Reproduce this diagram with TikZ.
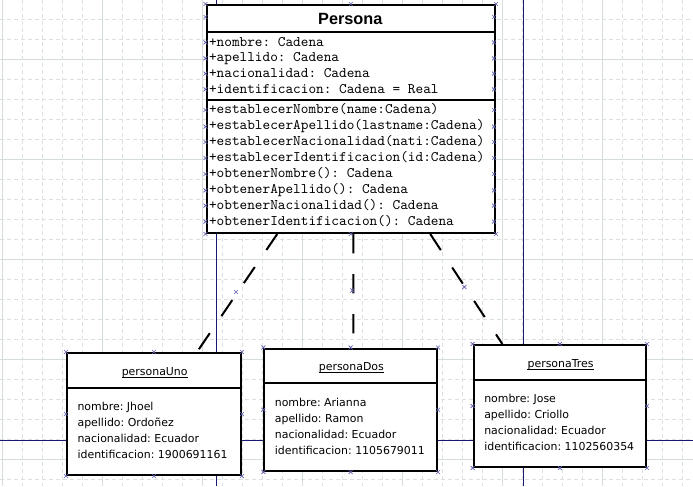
\documentclass[tikz,border=0pt]{standalone}
\usepackage{fontspec}
\newfontfamily\umlmono{Latin Modern Mono}
\newfontfamily\umlsans{DejaVu Sans}
\newfontfamily\umltitle{Liberation Sans}
\usetikzlibrary{calc}
\frenchspacing

\definecolor{gridminor}{RGB}{220,224,224}
\definecolor{gridmajor}{RGB}{212,220,220}
\definecolor{wire}{RGB}{24,24,112}
\definecolor{handle}{RGB}{96,96,176}

\tikzset{
  box/.style={draw=black, line width=1.5pt, fill=white, inner sep=0pt, anchor=north west},
  rule/.style={line width=1.5pt},
  assoc/.style={line width=1.5pt, dash pattern=on 14.5pt off 15.5pt},
  wireline/.style={wire, line width=0.75pt},
  gridmin/.style={gridminor, line width=0.75pt, dash pattern=on 3pt off 2.25pt},
  gridmaj/.style={gridmajor, line width=0.75pt},
  member/.style={anchor=base west, inner sep=0pt, font=\umlmono\fontsize{10.93}{12}\selectfont},
  slot/.style={anchor=base west, inner sep=0pt, font=\umlsans\fontsize{8.2}{10}\selectfont},
  objname/.style={anchor=base, inner sep=0pt, font=\umlsans\fontsize{8.2}{10}\selectfont},
  classname/.style={anchor=base, inner sep=0pt, font=\umltitle\bfseries\fontsize{12.2}{14}\selectfont},
  handlemark/.style={handle, line width=0.5pt},
}
% small selection handle (a cross)
\newcommand\umlhandle[1]{\draw[handlemark] #1 +(-2,-2) -- +(2,2) +(-2,2) -- +(2,-2);}

\begin{document}
\begin{tikzpicture}[x=0.75pt, y=-0.75pt]
  \useasboundingbox (0,0) rectangle (693,486);
  \fill[white] (0,0) rectangle (693,486);

  % canvas grid
  \foreach \x in {2.7,22.7,...,692.7} {\draw[gridmin] (\x,0) -- (\x,486);}
  \foreach \y in {19.3,39.3,...,479.3} {\draw[gridmin] (0,\y) -- (693,\y);}
  \foreach \x in {2.7,102.7,...,602.7} {\draw[gridmaj] (\x,0) -- (\x,486);}
  \foreach \y in {59.3,159.3,...,459.3} {\draw[gridmaj] (0,\y) -- (693,\y);}

  % class and objects
  \node[box, minimum width=288.5*0.75pt, minimum height=228*0.75pt] (persona) at (205.5,4) {};
  \node[box, minimum width=174*0.75pt, minimum height=122*0.75pt] (uno) at (66,352) {};
  \node[box, minimum width=172.7*0.75pt, minimum height=122.5*0.75pt] (dos) at (263.3,347.5) {};
  \node[box, minimum width=172.3*0.75pt, minimum height=122*0.75pt] (tres) at (472.7,344) {};

  % blue wires
  \coordinate (wA) at (216.3,0);
  \coordinate (wC) at (216.5,486);
  \coordinate (wT) at (523.3,0);
  \coordinate (wB) at (523.3,486);
  \coordinate (wL) at (0,440.5);
  \coordinate (wR) at (693,440.5);
  \draw[wireline] (wA) -- (wA |- persona.north);
  \draw[wireline] (wA |- persona.south) -- (wA |- uno.north);
  \draw[wireline] (wC) -- (wC |- uno.south);
  \draw[wireline] (wT) -- (wT |- tres.north);
  \draw[wireline] (wB) -- (wB |- tres.south);
  \draw[wireline] (wL) -- (wL -| uno.west);
  \draw[wireline] (uno.east |- wL) -- (dos.west |- wL);
  \draw[wireline] (dos.east |- wL) -- (tres.west |- wL);
  \draw[wireline] (tres.east |- wL) -- (wR);

  % class Persona
  \node[classname] (personaT) at (350.3,24) {Persona};
  \draw[rule] (205.5,32.3) -- (494,32.3);
  \draw[rule] (205.5,100) -- (494,100);
  \foreach \t [count=\i] in {
    +nombre: Cadena,
    +apellido: Cadena,
    +nacionalidad: Cadena,
    +identificacion: Cadena = Real}
    {\node[member] (attr\i) at (208.8,{46+15.67*(\i-1)}) {\t};}
  \foreach \t [count=\i] in {
    +establecerNombre(name:Cadena),
    +establecerApellido(lastname:Cadena),
    +establecerNacionalidad(nati:Cadena),
    +establecerIdentificacion(id:Cadena),
    +obtenerNombre(): Cadena,
    +obtenerApellido(): Cadena,
    +obtenerNacionalidad(): Cadena,
    +obtenerIdentificacion(): Cadena}
    {\node[member] (op\i) at (208.8,{113.7+15.95*(\i-1)}) {\t};}

  % objects
  \foreach \n/\title/\a/\b/\c/\d in {
    uno/personaUno/Jhoel/Ordoñez/Ecuador/1900691161,
    dos/personaDos/Arianna/Ramon/Ecuador/1105679011,
    tres/personaTres/Jose/Criollo/Ecuador/1102560354} {
    \node[objname] (\n T) at ($(\n.north)+(0.7,23.3)$) {\title};
    \draw[line width=0.75pt] ([yshift=-1.6pt]\n T.base west) -- ([yshift=-1.6pt]\n T.base east);
    \draw[rule] ($(\n.north west)+(0,35.7)$) -- ($(\n.north east)+(0,35.7)$);
    \node[slot] (\n 1) at ($(\n.north west)+(11.3,58.7)$) {nombre: \a};
    \node[slot] (\n 2) at ($(\n.north west)+(11.3,74.7)$) {apellido: \b};
    \node[slot] (\n 3) at ($(\n.north west)+(11.3,90.7)$) {nacionalidad: \c};
    \node[slot] (\n 4) at ($(\n.north west)+(11.3,106.7)$) {identificacion: \d};
  }

  % links from the class to its objects
  \draw[assoc] ($(persona.south)+(-73.5,0)$) -- ($(uno.north)+(43,0)$);
  \draw[assoc] ($(persona.south)+(2.5,0)$) -- ($(dos.north)+(2.6,0)$);
  \draw[assoc] ($(persona.south)+(79.5,0)$) -- ($(tres.north)+(-57.5,0)$);

  % selection handles
  \foreach \a in {north west,north,north east,south west,south,south east}
    {\umlhandle{(persona.\a)}}
  \foreach \y in {17,42.3,58.3,73.7,89.3,110,126.7,142,158,174,190.3,205.7,221.7} {
    \umlhandle{(205.5,\y)}
    \umlhandle{(494,\y)}
  }
  \foreach \n in {uno,dos,tres} {
    \foreach \a in {north west,north,north east,west,east,south west,south,south east}
      {\umlhandle{(\n.\a)}}
  }
  \umlhandle{(236,292)}
  \umlhandle{(352.3,290.5)}
  \umlhandle{(464.3,287)}
\end{tikzpicture}
\end{document}
